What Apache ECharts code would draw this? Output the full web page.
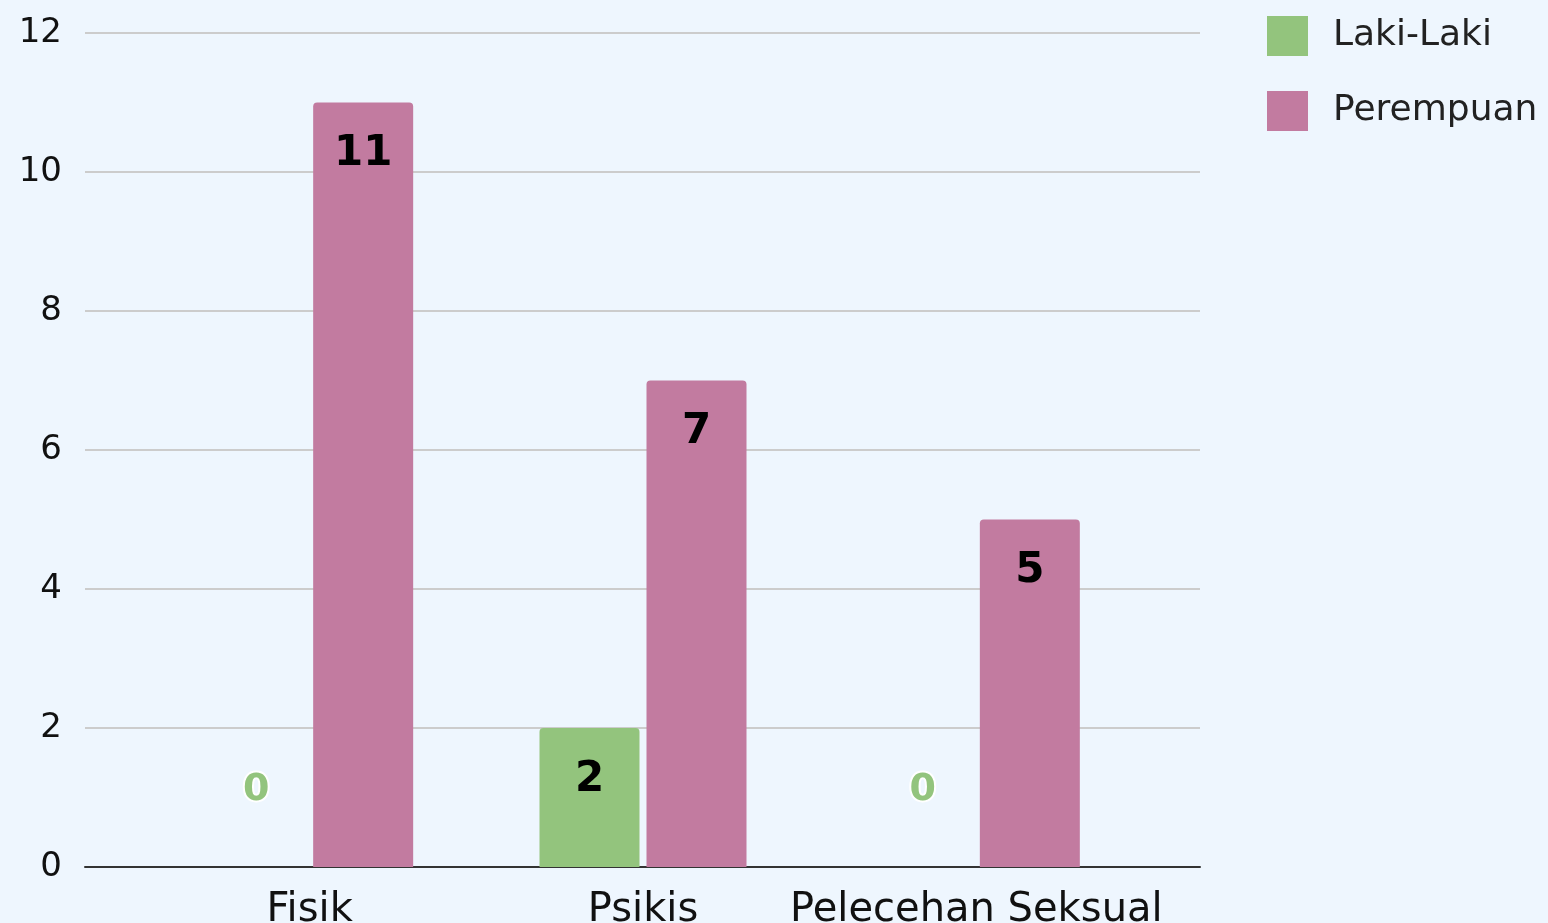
<!DOCTYPE html>
<html>
<head>
<meta charset="utf-8">
<script src="https://cdn.jsdelivr.net/npm/echarts@6/dist/echarts.min.js"></script>
<style>
  html, body { margin: 0; padding: 0; background: #eef6fe; }
  #chart { width: 1548px; height: 923px; }
</style>
</head>
<body>
<div id="chart"></div>
<script>
const categories = ['Fisik', 'Psikis', 'Pelecehan Seksual']
const lakiLaki = [0, 2, 0]
const perempuan = [11, 7, 5]
const yTicks = { min: 0, max: 12, interval: 2 }

const GREEN = '#93c47d'
const PINK = '#c27ba0'
const FONT = 'DejaVu Sans'

function withZeroLabels(values, color) {
  return values.map(v => v === 0
    ? {
        value: v,
        label: {
          position: 'top',
          distance: 58,
          color,
          fontWeight: 'bold',
          fontSize: 38,
          textBorderColor: '#ffffff',
          textBorderWidth: 4,
        },
      }
    : v)
}

const valueLabel = {
  show: true,
  position: 'insideTop',
  distance: 31,
  color: '#000',
  fontFamily: FONT,
  fontWeight: 'bold',
  fontSize: 42,
}

const chart = echarts.init(document.getElementById('chart'))
chart.setOption({
  backgroundColor: '#eef6fe',
  animation: false,
  textStyle: { fontFamily: FONT },
  legend: {
    orient: 'vertical',
    left: 1262,
    top: 11,
    icon: 'rect',
    itemWidth: 41,
    itemHeight: 40,
    itemGap: 35,
    textStyle: { fontSize: 36, color: '#222', padding: [0, 0, 0, 20] },
    data: ['Laki-Laki', 'Perempuan'],
  },
  grid: [
    { left: 85, right: 348, top: 33, bottom: 56, outerBoundsMode: 'none' },
    { left: 143, right: 405, top: 33, bottom: 56, outerBoundsMode: 'none' },
  ],
  xAxis: [
    {
      gridIndex: 0,
      type: 'value',
      min: 0,
      max: 1,
      axisLine: { show: true, onZero: false, lineStyle: { color: '#333', width: 2 } },
      axisTick: { show: false },
      axisLabel: { show: false },
      splitLine: { show: false },
    },
    {
      gridIndex: 1,
      type: 'category',
      data: categories,
      axisLine: { show: false },
      axisTick: { show: false },
      axisLabel: { interval: 0, fontSize: 40, color: '#111', margin: 24 },
    },
  ],
  yAxis: [
    {
      gridIndex: 0,
      type: 'value',
      ...yTicks,
      axisLine: { show: false },
      axisTick: { show: false },
      axisLabel: { fontSize: 34, color: '#111', margin: 23 },
      splitLine: { lineStyle: { color: '#cccccc', width: 2 } },
    },
    {
      gridIndex: 1,
      type: 'value',
      ...yTicks,
      show: false,
    },
  ],
  series: [
    {
      name: 'Laki-Laki',
      type: 'bar',
      xAxisIndex: 1,
      yAxisIndex: 1,
      barWidth: 100,
      barGap: '7%',
      itemStyle: { color: GREEN, borderRadius: [4, 4, 0, 0] },
      label: valueLabel,
      data: withZeroLabels(lakiLaki, GREEN),
    },
    {
      name: 'Perempuan',
      type: 'bar',
      xAxisIndex: 1,
      yAxisIndex: 1,
      barWidth: 100,
      barGap: '7%',
      itemStyle: { color: PINK, borderRadius: [4, 4, 0, 0] },
      label: valueLabel,
      data: withZeroLabels(perempuan, PINK),
    },
  ],
})
</script>
</body>
</html>
